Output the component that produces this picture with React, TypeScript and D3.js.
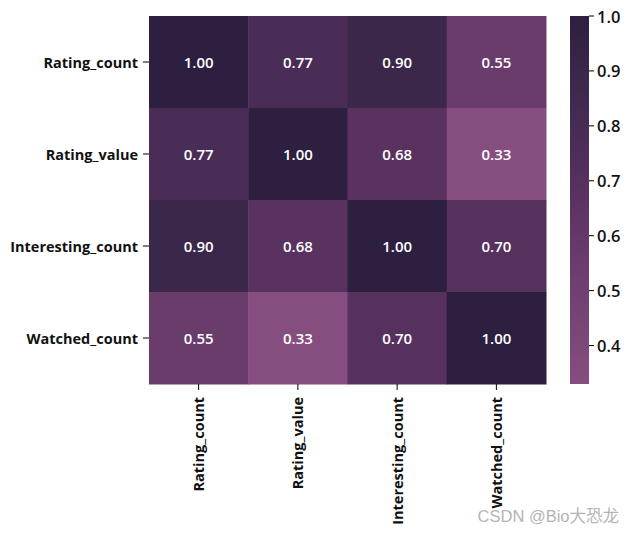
import React from "react";
import * as d3 from "d3";

const labels = ["Rating_count", "Rating_value", "Interesting_count", "Watched_count"];
const matrix = [
  [1.0, 0.77, 0.9, 0.55],
  [0.77, 1.0, 0.68, 0.33],
  [0.9, 0.68, 1.0, 0.7],
  [0.55, 0.33, 0.7, 1.0],
];
const cbTicks = [0.4, 0.5, 0.6, 0.7, 0.8, 0.9, 1.0];
const colorStops = [0.33, 0.55, 0.68, 0.77, 0.9, 1.0];
const colorValues = ["#864e7f", "#6a3c6c", "#59325f", "#4a2d57", "#3a2749", "#2d1f3f"];

export default function App() {
  const W = 634, H = 534;
  const left = 149, top = 16, right = 546, bottom = 384;
  const x = d3.scaleBand<string>().domain(labels).range([left, right]);
  const y = d3.scaleBand<string>().domain(labels).range([top, bottom]);
  const vmin = 0.33, vmax = 1.0;
  const color = d3.scaleLinear<string>().domain(colorStops).range(colorValues).interpolate(d3.interpolateRgb);
  const cbX = 570, cbW = 19;
  const cbY = d3.scaleLinear().domain([vmin, vmax]).range([bottom, top]);
  const gradStops = d3.range(0, 1.0001, 0.05).map((t) => vmin + t * (vmax - vmin));
  const font = "'Open Sans', sans-serif";
  return (
    <svg width={W} height={H} style={{ position: "absolute", left: 0, top: 0 }} fontFamily={font}>
      <defs>
        <linearGradient id="cb" x1="0" y1="1" x2="0" y2="0">
          {gradStops.map((v, i) => (
            <stop key={i} offset={(v - vmin) / (vmax - vmin)} stopColor={color(v)} />
          ))}
        </linearGradient>
      </defs>
      {matrix.map((row, i) =>
        row.map((v, j) => (
          <g key={`${i}-${j}`}>
            <rect x={x(labels[j])!} y={y(labels[i])!} width={x.bandwidth() + 0.5} height={y.bandwidth() + 0.5} fill={color(v)} />
            <text
              x={x(labels[j])! + x.bandwidth() / 2}
              y={y(labels[i])! + y.bandwidth() / 2}
              fill="#ffffff"
              fontSize={15}
              fontWeight={600}
              textAnchor="middle"
              dominantBaseline="central"
            >
              {v.toFixed(2)}
            </text>
          </g>
        ))
      )}
      {labels.map((l) => {
        const cy = y(l)! + y.bandwidth() / 2;
        return (
          <g key={"y" + l}>
            <line x1={left - 6} x2={left} y1={cy} y2={cy} stroke="#000" strokeWidth={1} />
            <text x={left - 11} y={cy} textAnchor="end" dominantBaseline="central" fontSize={14.5} fontWeight={700} fill="#111">
              {l}
            </text>
          </g>
        );
      })}
      {labels.map((l) => {
        const cx = x(l)! + x.bandwidth() / 2;
        return (
          <g key={"x" + l}>
            <line x1={cx} x2={cx} y1={bottom} y2={bottom + 6} stroke="#000" strokeWidth={1} />
            <text
              transform={`translate(${cx},${bottom + 13}) rotate(-90)`}
              textAnchor="end"
              dominantBaseline="central"
              fontSize={14.5}
              fontWeight={700}
              fill="#111"
            >
              {l}
            </text>
          </g>
        );
      })}
      <rect x={cbX} y={top} width={cbW} height={bottom - top} fill="url(#cb)" />
      {cbTicks.map((t) => (
        <g key={"cb" + t}>
          <line x1={cbX + cbW} x2={cbX + cbW + 5} y1={cbY(t)} y2={cbY(t)} stroke="#000" />
          <text x={cbX + cbW + 8} y={cbY(t)} dominantBaseline="central" fontSize={16.5} fontWeight={600} fill="#111">
            {t.toFixed(1)}
          </text>
        </g>
      ))}
      <text x={619} y={522} textAnchor="end" fontSize={16.5} fill="#b4b4b4" fontFamily="'Liberation Sans', 'Noto Sans CJK SC', sans-serif">
        CSDN @Bio大恐龙
      </text>
    </svg>
  );
}
